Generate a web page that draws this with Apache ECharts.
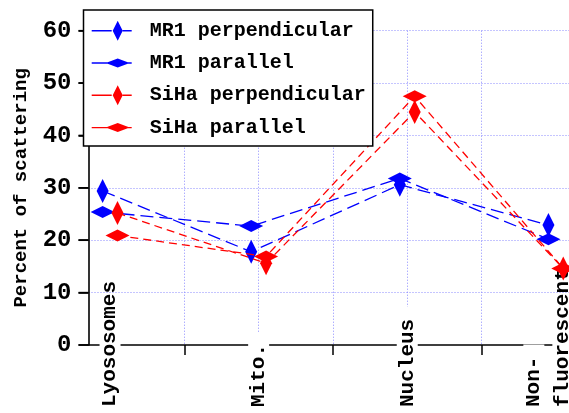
<!DOCTYPE html>
<html><head><meta charset="utf-8">
<script src="https://cdn.jsdelivr.net/npm/echarts@6/dist/echarts.min.js"></script>
<style>html,body{margin:0;padding:0;background:#fff}#c{width:569px;height:413px}</style>
</head><body><div id="c"></div>
<script>
// ---- data ----
const categories = ['Lyososomes', 'Mito.', 'Nucleus', 'Non-\nfluorescent'];
const categoryPositions = [0, 2, 4, 6];
const xTicks = [0, 1, 2, 3, 4, 5, 6];
const yTicks = [0, 10, 20, 30, 40, 50, 60];
const seriesNames = ['MR1 perpendicular', 'MR1 parallel', 'SiHa perpendicular', 'SiHa parallel'];
const mr1Perpendicular = [29.4, 17.8, 30.6, 22.9];
const mr1Parallel = [25.4, 22.7, 31.8, 20.2];
const sihaPerpendicular = [25.2, 15.6, 44.5, 14.6];
const sihaParallel = [20.9, 16.9, 47.5, 14.6];
const groupOffsets = [-0.1, -0.1, 0.1, 0.1];

// ---- styling ----
const FONT = 'Liberation Mono';
const BLUE = '#0000ff', RED = '#ff0000';
const GRID_COLOR = '#8a8aff';
const pxPerUnit = 74.3;
const gridLeft = 88.5;
const xMin = -0.29, xMax = 6.3;
const TICK_LEN = 10;

function legendIcon(tall) {
  const cy = 12, cx = 26;
  let d = 'M0,0h0.01v0.01h-0.01z M53,24h-0.01v-0.01h0.01z';
  d += ' M0,' + (cy - 0.7) + 'h20v1.4h-20z M31,' + (cy - 0.7) + 'h9v1.4h-9z';
  if (tall) d += ' M' + cx + ',' + (cy - 10) + 'L' + (cx + 5) + ',' + cy + 'L' + cx + ',' + (cy + 10) + 'L' + (cx - 5) + ',' + cy + 'z';
  else d += ' M' + (cx - 12) + ',' + cy + 'L' + cx + ',' + (cy - 4.5) + 'L' + (cx + 12) + ',' + cy + 'L' + cx + ',' + (cy + 4.5) + 'z';
  return 'path://' + d;
}

const seriesValues = [mr1Perpendicular, mr1Parallel, sihaPerpendicular, sihaParallel];
const series = seriesNames.map(function (name, i) {
  const isBlue = i < 2;
  const tall = i % 2 === 0;
  const color = isBlue ? BLUE : RED;
  return {
    name: name,
    type: 'line',
    data: categoryPositions.map(function (p, k) { return [p + groupOffsets[i], seriesValues[i][k]]; }),
    symbol: 'diamond',
    symbolSize: tall ? [12, 24] : [24, 12],
    itemStyle: { color: color, borderWidth: 0 },
    lineStyle: { color: color, width: 1.3, type: isBlue ? [13, 6] : [8, 5] },
    clip: false,
    z: 3 + i
  };
});

function xLabel(v) {
  const idx = categoryPositions.indexOf(Math.round(v));
  if (idx < 0) return '';
  const parts = categories[idx].split('\n');
  if (parts.length > 1) {
    return parts.map(function (s) { return '{a|' + s + '}'; }).join('\n') + '\n{p| }';
  }
  return '{a|' + parts[0] + '}';
}

const chart = echarts.init(document.getElementById('c'), null, { renderer: 'canvas' });
chart.setOption({
  animation: false,
  backgroundColor: '#fff',
  grid: { left: gridLeft, top: 30.7, width: (xMax - xMin) * pxPerUnit, height: 314.3,
          containLabel: false, outerBoundsMode: 'none' },
  legend: {
    orient: 'vertical', left: 83.5, top: 10,
    padding: [8.7, 7, 6.3, 8.2],
    itemWidth: 53, itemHeight: 24, itemGap: 8.3,
    backgroundColor: '#fff', borderColor: '#000', borderWidth: 1.5, borderRadius: 0,
    textStyle: { fontFamily: FONT, fontWeight: 'bold', fontSize: 20, color: '#000', lineHeight: 24 },
    itemStyle: { borderWidth: 0 },
    selectedMode: false,
    data: seriesNames.map(function (n, i) { return { name: n, icon: legendIcon(i % 2 === 0) }; }),
    z: 20
  },
  xAxis: {
    type: 'value', min: xMin, max: xMax, position: 'bottom',
    axisLine: { show: true, onZero: false, lineStyle: { color: '#000', width: 1.5 } },
    axisTick: { show: true, length: TICK_LEN, customValues: xTicks, lineStyle: { color: '#000', width: 1.5 } },
    splitLine: { show: true, showMinLine: false, showMaxLine: false,
                 lineStyle: { color: GRID_COLOR, type: [1, 2], width: 1 } },
    axisLabel: {
      customValues: categoryPositions,
      rotate: 90, align: 'left', verticalAlign: 'middle', margin: 62,
      hideOverlap: false,
      formatter: xLabel,
      rich: {
        a: { fontFamily: FONT, fontWeight: 'bold', fontSize: 21, color: '#000', lineHeight: 29,
             backgroundColor: '#fff', padding: [0, 12, 0, 0] },
        p: { fontSize: 10, lineHeight: 15 }
      }
    }
  },
  yAxis: {
    type: 'value', min: yTicks[0], max: yTicks[yTicks.length - 1], interval: 10, position: 'left',
    z: 2,
    axisLine: { show: true, onZero: false, lineStyle: { color: '#000', width: 1.6 } },
    axisTick: { show: true, inside: false, length: TICK_LEN, lineStyle: { color: '#000', width: 1.6 } },
    axisLabel: { margin: 17, fontFamily: FONT, fontWeight: 'bold', fontSize: 24, color: '#000' },
    splitLine: { show: true, showMinLine: false, lineStyle: { color: GRID_COLOR, type: [1, 2], width: 1 } },
    name: 'Percent of scattering', nameLocation: 'middle', nameGap: 58, nameRotate: 90,
    nameTextStyle: { fontFamily: FONT, fontWeight: 'bold', fontSize: 19, color: '#000' }
  },
  series: series
});

// y-axis tick marks placed through the library's own scales
const axisX = chart.convertToPixel({ xAxisIndex: 0 }, xMin);
chart.setOption({
  graphic: yTicks.map(function (v) {
    const py = chart.convertToPixel({ yAxisIndex: 0 }, v);
    return {
      type: 'line', silent: true, z: 5,
      shape: { x1: axisX - TICK_LEN, y1: py, x2: axisX, y2: py },
      style: { stroke: '#000', lineWidth: 1.6 }
    };
  })
});
</script>
</body></html>
